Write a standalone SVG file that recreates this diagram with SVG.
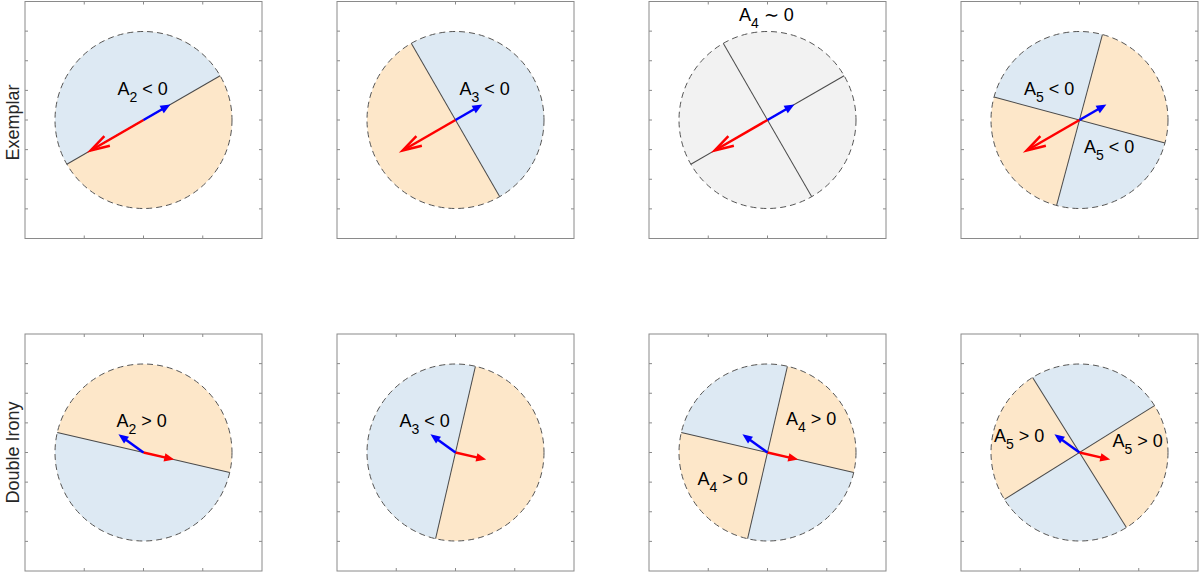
<svg xmlns="http://www.w3.org/2000/svg" xmlns:xlink="http://www.w3.org/1999/xlink" width="1200" height="575" viewBox="0 0 1200 575">
<style>
.box{fill:none;stroke:#8a8a8a;stroke-width:1}
.tick{fill:none;stroke:#8a8a8a;stroke-width:1}
.bl{fill:#dde9f3}
.or{fill:#fde7c9}
.gr{fill:#f2f2f2}
.div{fill:none;stroke:#4a4a4a;stroke-width:1}
.rim{fill:none;stroke:#555;stroke-width:1;stroke-dasharray:6 4}
.lab{font-family:"Liberation Sans",Arial,Helvetica,sans-serif;font-size:18px;fill:#000}
.sub{font-size:14px}
.side{font-family:"Liberation Sans",Arial,Helvetica,sans-serif;font-size:18px;fill:#262626;text-anchor:middle}
.rs{stroke:#ff0000;stroke-width:2.5;fill:none}
.bs{stroke:#0000ff;stroke-width:2.5;fill:none}
.rf{fill:#ff0000}
.bf{fill:#0000ff}
</style>
<defs>
<g id="frame">
<rect x="0" y="0" width="237" height="237" class="box"/>
<path class="tick" d="M59.25 0v3M118.5 0v3M177.75 0v3M59.25 237v-3M118.5 237v-3M177.75 237v-3M0 29.625h3M0 59.25h3M0 88.875h3M0 118.5h3M0 148.125h3M0 177.75h3M0 207.375h3M237 29.625h-3M237 59.25h-3M237 88.875h-3M237 118.5h-3M237 148.125h-3M237 177.75h-3M237 207.375h-3"/>
</g>
<path id="half" d="M-88.5 0A88.5 88.5 0 0 1 88.5 0Z"/>
<path id="quad" d="M0 0L88.5 0A88.5 88.5 0 0 0 0 -88.5Z"/>
<path id="diam" d="M-88.5 0H88.5"/>
<g id="arrTop">
<g transform="rotate(-210)">
<path class="rs" d="M0 0H60"/>
<path class="rs" d="M42 -5.5L61 0L42 5.5" stroke-linejoin="miter"/>
</g>
<g transform="rotate(-30)">
<path class="bs" d="M0 0H24"/>
<path class="bf" d="M31 0L21 -4.2L21 4.2Z"/>
</g>
</g>
<g id="arrBot">
<g transform="rotate(13)">
<path class="rs" d="M0 0H24"/>
<path class="rf" d="M31.5 0L21.5 -4.2L21.5 4.2Z"/>
</g>
<g transform="rotate(-144)">
<path class="bs" d="M0 0H24"/>
<path class="bf" d="M31 0L21 -4.2L21 4.2Z"/>
</g>
</g>
</defs>
<rect width="1200" height="575" fill="#fff"/>

<text class="side" transform="translate(19,122.5) rotate(-90)">Exemplar</text>
<text class="side" transform="translate(18.5,452.5) rotate(-90)">Double Irony</text>

<g id="panel-exemplar-a2">
<use href="#frame" x="25" y="1.5"/>
<g transform="translate(143.5,120)">
<circle r="88.5" class="or"/>
<use href="#half" class="bl" transform="rotate(-30)"/>
<use href="#diam" class="div" transform="rotate(-30)"/>
<use href="#arrTop"/>
<circle r="88.5" class="rim"/>
</g>
<text class="lab" x="117.5" y="95">A<tspan class="sub" dy="6.5">2</tspan><tspan dy="-6.5"> &lt; 0</tspan></text>
</g>

<g id="panel-exemplar-a3">
<use href="#frame" x="337" y="1.5"/>
<g transform="translate(455.5,120)">
<circle r="88.5" class="or"/>
<use href="#half" class="bl" transform="rotate(60)"/>
<use href="#diam" class="div" transform="rotate(60)"/>
<use href="#arrTop"/>
<circle r="88.5" class="rim"/>
</g>
<text class="lab" x="459.5" y="95">A<tspan class="sub" dy="6.5">3</tspan><tspan dy="-6.5"> &lt; 0</tspan></text>
</g>

<g id="panel-exemplar-a4">
<use href="#frame" x="649" y="1.5"/>
<g transform="translate(767.5,120)">
<circle r="88.5" class="gr"/>
<use href="#diam" class="div" transform="rotate(-30)"/>
<use href="#diam" class="div" transform="rotate(60)"/>
<use href="#arrTop"/>
<circle r="88.5" class="rim"/>
</g>
<text class="lab" x="739" y="21">A<tspan class="sub" dy="6.5">4</tspan><tspan dy="-6.5"> ∼ 0</tspan></text>
</g>

<g id="panel-exemplar-a5">
<use href="#frame" x="961" y="1.5"/>
<g transform="translate(1079.5,120)">
<circle r="88.5" class="or"/>
<use href="#quad" class="bl" transform="rotate(-75)"/>
<use href="#quad" class="bl" transform="rotate(-255)"/>
<use href="#diam" class="div" transform="rotate(-75)"/>
<use href="#diam" class="div" transform="rotate(-165)"/>
<use href="#arrTop"/>
<circle r="88.5" class="rim"/>
</g>
<text class="lab" x="1024" y="95">A<tspan class="sub" dy="6.5">5</tspan><tspan dy="-6.5"> &lt; 0</tspan></text>
<text class="lab" x="1084" y="153">A<tspan class="sub" dy="6.5">5</tspan><tspan dy="-6.5"> &lt; 0</tspan></text>
</g>

<g id="panel-irony-a2">
<use href="#frame" x="25" y="334"/>
<g transform="translate(143.5,452.5)">
<circle r="88.5" class="or"/>
<use href="#half" class="bl" transform="rotate(-167)"/>
<use href="#diam" class="div" transform="rotate(-167)"/>
<use href="#arrBot"/>
<circle r="88.5" class="rim"/>
</g>
<text class="lab" x="116.5" y="427">A<tspan class="sub" dy="6.5">2</tspan><tspan dy="-6.5"> &gt; 0</tspan></text>
</g>

<g id="panel-irony-a3">
<use href="#frame" x="337" y="334"/>
<g transform="translate(455.5,452.5)">
<circle r="88.5" class="or"/>
<use href="#half" class="bl" transform="rotate(-77)"/>
<use href="#diam" class="div" transform="rotate(-77)"/>
<use href="#arrBot"/>
<circle r="88.5" class="rim"/>
</g>
<text class="lab" x="399.5" y="427">A<tspan class="sub" dy="6.5">3</tspan><tspan dy="-6.5"> &lt; 0</tspan></text>
</g>

<g id="panel-irony-a4">
<use href="#frame" x="649" y="334"/>
<g transform="translate(767.5,452.5)">
<circle r="88.5" class="or"/>
<use href="#quad" class="bl" transform="rotate(-77)"/>
<use href="#quad" class="bl" transform="rotate(-257)"/>
<use href="#diam" class="div" transform="rotate(-77)"/>
<use href="#diam" class="div" transform="rotate(-167)"/>
<use href="#arrBot"/>
<circle r="88.5" class="rim"/>
</g>
<text class="lab" x="786" y="425">A<tspan class="sub" dy="6.5">4</tspan><tspan dy="-6.5"> &gt; 0</tspan></text>
<text class="lab" x="697.5" y="485">A<tspan class="sub" dy="6.5">4</tspan><tspan dy="-6.5"> &gt; 0</tspan></text>
</g>

<g id="panel-irony-a5">
<use href="#frame" x="961" y="334"/>
<g transform="translate(1079.5,452.5)">
<circle r="88.5" class="or"/>
<use href="#quad" class="bl" transform="rotate(-32)"/>
<use href="#quad" class="bl" transform="rotate(-212)"/>
<use href="#diam" class="div" transform="rotate(-32)"/>
<use href="#diam" class="div" transform="rotate(-122)"/>
<use href="#arrBot"/>
<circle r="88.5" class="rim"/>
</g>
<text class="lab" x="994" y="442">A<tspan class="sub" dy="6.5">5</tspan><tspan dy="-6.5"> &gt; 0</tspan></text>
<text class="lab" x="1112.5" y="447">A<tspan class="sub" dy="6.5">5</tspan><tspan dy="-6.5"> &gt; 0</tspan></text>
</g>
</svg>
